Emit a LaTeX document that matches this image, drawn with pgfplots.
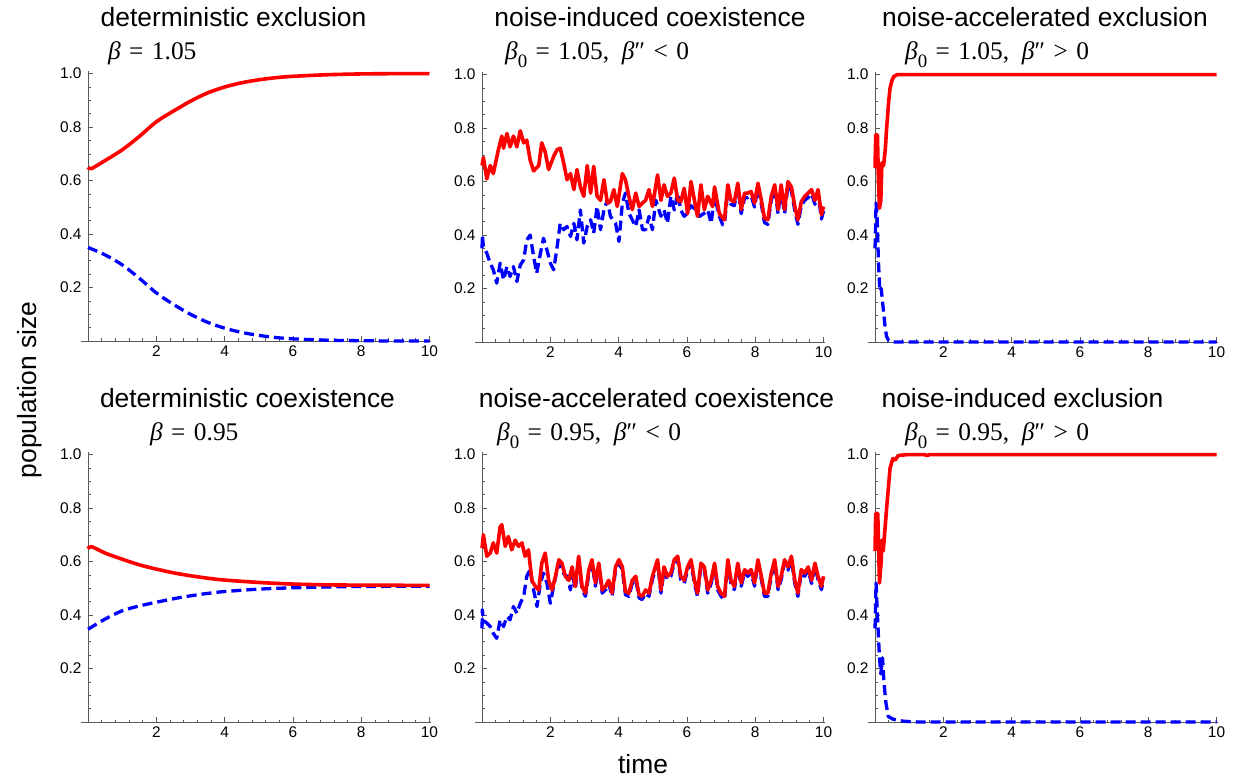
\documentclass[border=0pt]{standalone}
\usepackage{pgfplots}
\pgfplotsset{compat=1.18}
\usepackage{fontspec}
\setmainfont{Liberation Sans}
\newfontfamily\serif{Liberation Serif}
\newcommand\tfont{\fontsize{26.5}{30}\selectfont}
\newcommand\sfont{\fontsize{25.5}{28}\selectfont\serif}
\newcommand\tl{\fontsize{15.5}{17}\selectfont}
\newcommand\bet{{\itshape β}}
\newcommand\eq[1]{\hspace{0.33em}#1\hspace{0.33em}}
\newcommand\zero{\raisebox{-0.28em}{\fontsize{19}{20}\selectfont 0}}
\pgfplotsset{panel/.style={
  scale only axis, width=350bp, height=270bp,
  xmin=-0.2, xmax=10.05, ymin=0, ymax=1.01,
  axis x line=middle, axis y line=middle,
  axis line style={-, black!65, line width=0.9bp},
  xtick={0,2,4,6,8,10}, xticklabels={,\tl 2,\tl 4,\tl 6,\tl 8,\tl 10},
  ytick={0,0.2,0.4,0.6,0.8,1.0}, yticklabels={,\tl 0.2,\tl 0.4,\tl 0.6,\tl 0.8,\tl 1.0},
  minor x tick num=4, minor y tick num=3,
  tick align=inside,
  major tick length=4.5bp, minor tick length=2.5bp,
  tick style={black!65, line width=0.7bp},
  every tick label/.append style={font=\tl, text=black},
  yticklabel style={xshift=-3bp},
  xticklabel style={yshift=-1bp},
  clip=false,
  anchor=south west,
},
redl/.style={color=red, line width=3.6bp, line join=round},
bluel/.style={color=blue, line width=3.3bp, dash pattern=on 10bp off 5bp, line join=round}}
\begin{document}
\begin{tikzpicture}
\useasboundingbox (0,0) rectangle (1245bp,777bp);
% ---------- panel 1 ----------
\begin{axis}[panel, at={(81.2bp,436bp)}]
\addplot[bluel, smooth] coordinates {(0,0.35)(0.5,0.322)(1,0.285)(1.5,0.235)(2,0.18)(2.5,0.137)(3,0.1)(3.5,0.07)(4,0.048)(4.5,0.032)(5,0.021)(5.5,0.013)(6,0.008)(7,0.003)(8,0.001)(9,0)(10,0)};
\addplot[redl, smooth] coordinates {(0,0.65)(0.1,0.645)(0.5,0.675)(1,0.715)(1.5,0.765)(2,0.82)(2.5,0.86)(3,0.897)(3.5,0.928)(4,0.95)(4.5,0.966)(5,0.977)(5.5,0.985)(6,0.99)(7,0.996)(8,0.999)(9,1.0)(10,1.0)};
\end{axis}
% ---------- panel 2 ----------
\begin{axis}[panel, at={(475.2bp,435bp)}]
\addplot[bluel] coordinates {(0,0.35)(0.01,0.40)(0.04,0.357)(0.14,0.332)(0.24,0.295)(0.33,0.27)(0.43,0.22)(0.53,0.295)(0.63,0.232)(0.73,0.282)(0.82,0.245)(0.92,0.282)(1.02,0.226)(1.12,0.288)(1.22,0.307)(1.31,0.382)(1.41,0.4)(1.51,0.32)(1.6,0.257)(1.71,0.332)(1.8,0.388)(1.9,0.345)(2.0,0.295)(2.1,0.27)(2.2,0.357)(2.29,0.444)(2.39,0.42)(2.49,0.432)(2.59,0.395)(2.69,0.444)(2.78,0.382)(2.88,0.494)(2.98,0.37)(3.08,0.432)(3.18,0.457)(3.27,0.407)(3.37,0.507)(3.47,0.42)(3.57,0.494)(3.67,0.53)(3.76,0.47)(3.91,0.444)(4.01,0.376)(4.11,0.52)(4.2,0.557)(4.3,0.482)(4.4,0.457)(4.5,0.432)(4.6,0.494)(4.7,0.42)(4.79,0.42)(4.89,0.47)(4.99,0.42)(5.09,0.53)(5.24,0.47)(5.33,0.494)(5.43,0.444)(5.53,0.545)(5.63,0.494)(5.73,0.557)(5.82,0.494)(5.92,0.47)(6.02,0.482)(6.12,0.51)(6.27,0.494)(6.37,0.47)(6.51,0.482)(6.61,0.494)(6.71,0.444)(6.81,0.545)(6.95,0.47)(7.05,0.438)(7.1,0.44)(7.2,0.57)(7.29,0.515)(7.39,0.51)(7.49,0.578)(7.59,0.48)(7.69,0.54)(7.78,0.54)(7.88,0.547)(7.98,0.505)(8.08,0.578)(8.18,0.515)(8.27,0.447)(8.37,0.44)(8.47,0.53)(8.57,0.572)(8.67,0.48)(8.76,0.572)(8.86,0.48)(8.96,0.585)(9.06,0.565)(9.16,0.49)(9.25,0.44)(9.35,0.51)(9.45,0.53)(9.55,0.54)(9.65,0.555)(9.75,0.515)(9.84,0.555)(9.94,0.46)(10.0,0.49)};
\addplot[redl] coordinates {(0,0.66)(0.04,0.69)(0.14,0.61)(0.24,0.66)(0.33,0.63)(0.48,0.72)(0.58,0.77)(0.63,0.725)(0.73,0.78)(0.82,0.73)(0.92,0.77)(1.02,0.73)(1.12,0.79)(1.22,0.745)(1.31,0.755)(1.41,0.68)(1.51,0.64)(1.66,0.66)(1.75,0.745)(1.85,0.71)(1.95,0.645)(2.1,0.695)(2.2,0.72)(2.29,0.725)(2.39,0.67)(2.49,0.607)(2.59,0.63)(2.69,0.57)(2.78,0.645)(2.88,0.58)(2.98,0.545)(3.08,0.66)(3.18,0.557)(3.27,0.657)(3.37,0.545)(3.47,0.53)(3.57,0.607)(3.67,0.52)(3.76,0.525)(3.86,0.57)(3.96,0.507)(4.11,0.63)(4.2,0.607)(4.3,0.545)(4.4,0.495)(4.5,0.557)(4.6,0.507)(4.7,0.52)(4.79,0.53)(4.89,0.57)(4.99,0.507)(5.14,0.625)(5.24,0.53)(5.33,0.588)(5.43,0.545)(5.53,0.557)(5.63,0.613)(5.73,0.53)(5.82,0.525)(5.92,0.575)(6.02,0.48)(6.12,0.6)(6.22,0.53)(6.31,0.47)(6.41,0.588)(6.51,0.495)(6.61,0.545)(6.75,0.507)(6.81,0.58)(6.95,0.48)(7.1,0.457)(7.2,0.588)(7.29,0.53)(7.39,0.525)(7.49,0.594)(7.59,0.495)(7.69,0.557)(7.78,0.557)(7.88,0.563)(7.98,0.52)(8.08,0.594)(8.18,0.53)(8.27,0.463)(8.37,0.457)(8.47,0.545)(8.57,0.588)(8.67,0.495)(8.76,0.588)(8.86,0.495)(8.96,0.6)(9.06,0.58)(9.16,0.507)(9.25,0.457)(9.35,0.525)(9.45,0.545)(9.55,0.557)(9.65,0.57)(9.75,0.53)(9.84,0.57)(9.94,0.476)(10.0,0.507)};
\end{axis}
% ---------- panel 3 ----------
\begin{axis}[panel, at={(868.2bp,435bp)}]
\addplot[bluel] coordinates {(0,0.35)(0.03,0.52)(0.06,0.47)(0.1,0.3)(0.14,0.19)(0.18,0.2)(0.22,0.15)(0.26,0.1)(0.3,0.05)(0.34,0.02)(0.4,0.005)(0.5,0)(10,0)};
\addplot[redl] coordinates {(0,0.65)(0.02,0.775)(0.07,0.775)(0.1,0.6)(0.13,0.5)(0.17,0.53)(0.2,0.67)(0.25,0.66)(0.3,0.72)(0.34,0.8)(0.4,0.9)(0.44,0.95)(0.5,0.98)(0.55,0.993)(0.65,1.0)(10,1.0)};
\end{axis}
% ---------- panel 4 ----------
\begin{axis}[panel, at={(81.2bp,55bp)}]
\addplot[bluel, smooth] coordinates {(0,0.347)(0.5,0.385)(1,0.416)(1.5,0.434)(2,0.448)(2.5,0.461)(3,0.472)(3.5,0.481)(4,0.488)(5,0.497)(6,0.502)(7,0.505)(8,0.507)(10,0.508)};
\addplot[redl, smooth] coordinates {(0,0.648)(0.1,0.656)(0.5,0.632)(1,0.609)(1.5,0.588)(2,0.572)(2.5,0.558)(3,0.547)(3.5,0.538)(4,0.531)(5,0.522)(6,0.516)(7,0.513)(8,0.512)(10,0.511)};
\end{axis}
% ---------- panel 5 ----------
\begin{axis}[panel, at={(475.2bp,55bp)}]
\addplot[bluel] coordinates {(0,0.35)(0.01,0.42)(0.04,0.38)(0.14,0.37)(0.24,0.357)(0.33,0.332)(0.43,0.313)(0.53,0.382)(0.63,0.357)(0.73,0.395)(0.82,0.382)(0.92,0.432)(1.02,0.407)(1.12,0.444)(1.22,0.47)(1.31,0.545)(1.41,0.57)(1.51,0.494)(1.61,0.432)(1.71,0.52)(1.8,0.557)(1.9,0.52)(2.0,0.444)(2.1,0.51)(2.2,0.57)(2.29,0.594)(2.39,0.555)(2.49,0.545)(2.59,0.494)(2.64,0.565)(2.73,0.495)(2.83,0.605)(2.93,0.495)(3.03,0.47)(3.13,0.557)(3.22,0.595)(3.32,0.508)(3.42,0.582)(3.52,0.482)(3.62,0.495)(3.71,0.518)(3.81,0.47)(3.91,0.568)(4.01,0.595)(4.11,0.568)(4.2,0.476)(4.3,0.47)(4.4,0.518)(4.5,0.533)(4.6,0.464)(4.69,0.458)(4.79,0.482)(4.89,0.47)(4.99,0.533)(5.14,0.595)(5.24,0.482)(5.33,0.568)(5.43,0.533)(5.53,0.545)(5.63,0.595)(5.73,0.608)(5.82,0.533)(5.92,0.518)(6.02,0.568)(6.12,0.595)(6.22,0.518)(6.31,0.47)(6.41,0.582)(6.51,0.568)(6.61,0.482)(6.71,0.518)(6.81,0.582)(6.9,0.495)(7.0,0.47)(7.1,0.458)(7.2,0.595)(7.29,0.518)(7.39,0.495)(7.49,0.582)(7.59,0.508)(7.69,0.558)(7.78,0.545)(7.88,0.558)(7.98,0.508)(8.08,0.595)(8.18,0.533)(8.27,0.47)(8.37,0.47)(8.47,0.545)(8.57,0.595)(8.67,0.495)(8.76,0.533)(8.86,0.595)(8.96,0.568)(9.06,0.608)(9.16,0.518)(9.25,0.47)(9.35,0.558)(9.45,0.545)(9.55,0.568)(9.65,0.518)(9.75,0.582)(9.84,0.533)(9.94,0.495)(10.0,0.533)};
\addplot[redl] coordinates {(0,0.65)(0.04,0.70)(0.14,0.62)(0.24,0.632)(0.33,0.67)(0.43,0.632)(0.53,0.73)(0.58,0.738)(0.68,0.657)(0.77,0.694)(0.87,0.644)(0.97,0.68)(1.07,0.657)(1.17,0.67)(1.26,0.62)(1.36,0.644)(1.46,0.53)(1.56,0.507)(1.66,0.494)(1.75,0.594)(1.85,0.632)(1.95,0.53)(2.05,0.494)(2.15,0.545)(2.25,0.607)(2.34,0.594)(2.44,0.545)(2.54,0.53)(2.64,0.58)(2.73,0.507)(2.83,0.62)(2.93,0.507)(3.03,0.482)(3.13,0.57)(3.22,0.607)(3.32,0.52)(3.42,0.594)(3.52,0.494)(3.62,0.507)(3.71,0.53)(3.81,0.482)(3.91,0.58)(4.01,0.607)(4.11,0.58)(4.2,0.488)(4.3,0.482)(4.4,0.53)(4.5,0.545)(4.6,0.476)(4.69,0.47)(4.79,0.494)(4.89,0.482)(4.99,0.545)(5.14,0.607)(5.24,0.494)(5.33,0.58)(5.43,0.545)(5.53,0.557)(5.63,0.607)(5.73,0.62)(5.82,0.545)(5.92,0.53)(6.02,0.58)(6.12,0.607)(6.22,0.53)(6.31,0.482)(6.41,0.594)(6.51,0.58)(6.61,0.494)(6.71,0.53)(6.81,0.594)(6.9,0.507)(7.0,0.482)(7.1,0.47)(7.2,0.607)(7.29,0.53)(7.39,0.507)(7.49,0.594)(7.59,0.52)(7.69,0.57)(7.78,0.557)(7.88,0.57)(7.98,0.52)(8.08,0.607)(8.18,0.545)(8.27,0.482)(8.37,0.482)(8.47,0.557)(8.57,0.607)(8.67,0.507)(8.76,0.545)(8.86,0.607)(8.96,0.58)(9.06,0.62)(9.16,0.53)(9.25,0.482)(9.35,0.57)(9.45,0.557)(9.55,0.58)(9.65,0.53)(9.75,0.594)(9.84,0.545)(9.94,0.507)(10.0,0.545)};
\end{axis}
% ---------- panel 6 ----------
\begin{axis}[panel, at={(868.2bp,55bp)}]
\addplot[bluel] coordinates {(0,0.35)(0.03,0.52)(0.07,0.4)(0.13,0.24)(0.17,0.18)(0.22,0.24)(0.26,0.15)(0.32,0.07)(0.39,0.02)(0.54,0.01)(0.83,0.003)(1.2,0)(10,0)};
\addplot[redl] coordinates {(0,0.64)(0.02,0.78)(0.08,0.78)(0.13,0.52)(0.18,0.6)(0.2,0.68)(0.24,0.64)(0.34,0.8)(0.44,0.95)(0.52,0.985)(0.59,0.98)(0.68,0.997)(0.93,1.0)(1.45,1.0)(1.52,0.997)(1.6,1.0)(10,1.0)};
\end{axis}
% ---------- titles ----------
\node[anchor=base] at (233.5bp,750bp) {\tfont deterministic exclusion};
\node[anchor=base] at (650bp,750bp) {\tfont noise-induced coexistence};
\node[anchor=base] at (1045bp,750bp) {\tfont noise-accelerated exclusion};
\node[anchor=base west, inner sep=0pt] at (108bp,717bp) {\sfont \bet\eq{=}1.05};
\node[anchor=base west, inner sep=0pt] at (505bp,717bp) {\sfont \bet\zero\eq{=}1.05,\ \ \bet″\eq{<}0};
\node[anchor=base west, inner sep=0pt] at (905bp,717bp) {\sfont \bet\zero\eq{=}1.05,\ \ \bet″\eq{>}0};
\node[anchor=base] at (247.5bp,369bp) {\tfont deterministic coexistence};
\node[anchor=base] at (656.5bp,369bp) {\tfont noise-accelerated coexistence};
\node[anchor=base] at (1022.5bp,369bp) {\tfont noise-induced exclusion};
\node[anchor=base west, inner sep=0pt] at (150bp,336bp) {\sfont \bet\eq{=}0.95};
\node[anchor=base west, inner sep=0pt] at (497bp,336bp) {\sfont \bet\zero\eq{=}0.95,\ \ \bet″\eq{<}0};
\node[anchor=base west, inner sep=0pt] at (905bp,336bp) {\sfont \bet\zero\eq{=}0.95,\ \ \bet″\eq{>}0};
% ---------- axis labels ----------
\node[rotate=90] at (30bp,387bp) {\tfont population size};
\node at (643bp,13bp) {\tfont time};
\end{tikzpicture}
\end{document}
